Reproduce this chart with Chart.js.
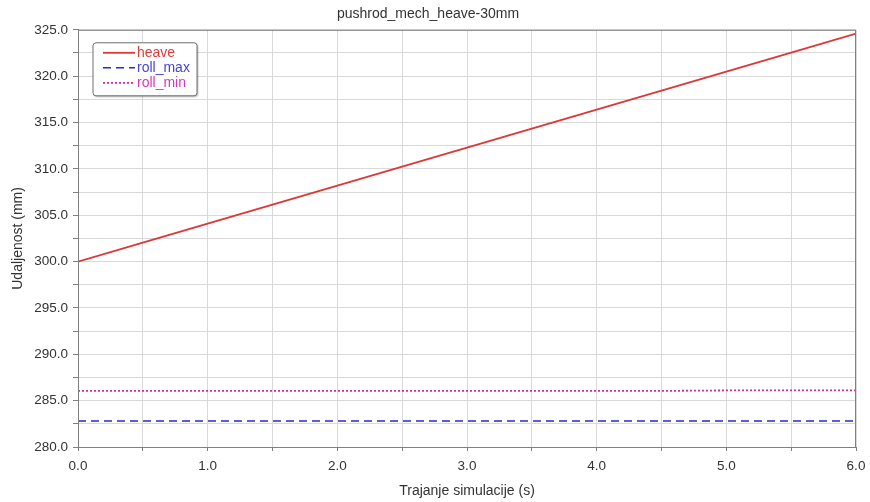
<!DOCTYPE html>
<html>
<head>
<meta charset="utf-8">
<title>pushrod_mech_heave-30mm</title>
<script src="https://cdn.jsdelivr.net/npm/chart.js@4"></script>
<style>
  html, body { margin: 0; padding: 0; background: #fff; }
  #wrap { width: 870px; height: 502px; }
</style>
</head>
<body>
<div id="wrap"><canvas id="chartHeave" width="870" height="502"></canvas></div>
<script>
// Datos
const timeS = [0.0, 0.5, 1.0, 1.5, 2.0, 2.5, 3.0, 3.5, 4.0, 4.5, 5.0, 5.5, 6.0];
const heave = [300.0, 302.05, 304.1, 306.15, 308.2, 310.25, 312.3, 314.35, 316.4, 318.45, 320.5, 322.55, 324.6];
const rollMax = [282.8, 282.8, 282.8, 282.8, 282.8, 282.8, 282.8, 282.8, 282.8, 282.8, 282.8, 282.8, 282.8];
const rollMin = [286.05, 286.05, 286.05, 286.05, 286.05, 286.05, 286.05, 286.05, 286.05, 286.05, 286.1, 286.1, 286.1];
const seriesNames = ['heave', 'roll_max', 'roll_min'];
const xTickLabels = ['0.0', '1.0', '2.0', '3.0', '4.0', '5.0', '6.0'];
const yTickLabels = ['280.0', '285.0', '290.0', '295.0', '300.0', '305.0', '310.0', '315.0', '320.0', '325.0'];

(function() {
  'use strict';

  const FONT = '"Liberation Sans", Arial, sans-serif';
  const toPoints = vals => vals.map((v, i) => ({ x: timeS[i], y: v }));

  // Leyenda dentro del área de la gráfica
  const boxLegend = {
    id: 'boxLegend',
    afterDraw(chart) {
      const ctx = chart.ctx;
      const area = chart.chartArea;
      const x = area.left + 15;
      const y = area.top + 13;
      ctx.save();
      ctx.shadowColor = 'rgba(0,0,0,0.35)';
      ctx.shadowBlur = 2;
      ctx.shadowOffsetX = 1;
      ctx.shadowOffsetY = 1;
      ctx.fillStyle = '#fff';
      ctx.beginPath();
      ctx.roundRect(x, y, 104, 53, 3);
      ctx.fill();
      ctx.shadowColor = 'transparent';
      ctx.strokeStyle = '#707070';
      ctx.lineWidth = 1;
      ctx.stroke();
      ctx.font = '14px ' + FONT;
      ctx.textBaseline = 'middle';
      chart.data.datasets.forEach((ds, i) => {
        const ly = y + 10 + i * 15;
        ctx.strokeStyle = ds.borderColor;
        ctx.lineWidth = ds.borderWidth;
        ctx.setLineDash(ds.borderDash || []);
        ctx.beginPath();
        ctx.moveTo(x + 10, ly);
        ctx.lineTo(x + 42, ly);
        ctx.stroke();
        ctx.setLineDash([]);
        ctx.fillStyle = ds.legendColor;
        ctx.fillText(ds.label, x + 44, ly);
      });
      ctx.restore();
    }
  };

  // Marco del área de trazado
  const plotFrame = {
    id: 'plotFrame',
    afterDatasetsDraw(chart) {
      const a = chart.chartArea;
      const ctx = chart.ctx;
      ctx.save();
      ctx.strokeStyle = '#808080';
      ctx.lineWidth = 1;
      ctx.strokeRect(a.left + 0.5, a.top + 0.5, a.right - a.left - 1, a.bottom - a.top);
      ctx.restore();
    }
  };

  const ctx = document.getElementById('chartHeave').getContext('2d');
  new Chart(ctx, {
    type: 'line',
    data: {
      datasets: [{
        label: seriesNames[0],
        data: toPoints(heave),
        borderColor: '#dc3838',
        legendColor: '#e03c3c',
        borderWidth: 1.8,
        pointRadius: 0,
        tension: 0
      }, {
        label: seriesNames[1],
        data: toPoints(rollMax),
        borderColor: '#2a2ac8',
        legendColor: '#4444d8',
        borderWidth: 1.6,
        borderDash: [8, 5],
        pointRadius: 0,
        tension: 0
      }, {
        label: seriesNames[2],
        data: toPoints(rollMin),
        borderColor: '#d8289c',
        legendColor: '#d838b8',
        borderWidth: 1.8,
        borderDash: [2, 2],
        pointRadius: 0,
        tension: 0
      }]
    },
    options: {
      responsive: false,
      animation: false,
      layout: { padding: { left: 0, right: 14, top: 0, bottom: 0 } },
      scales: {
        x: {
          type: 'linear',
          min: 0,
          max: 6,
          afterFit(scale) {
            scale.height = 55;
            scale.paddingLeft = 0;
            scale.paddingRight = 0;
          },
          ticks: {
            stepSize: 0.5,
            autoSkip: false,
            maxRotation: 0,
            padding: 7,
            color: '#333',
            font: { family: FONT, size: 13.5 },
            callback: v => (Math.abs(v - Math.round(v)) < 1e-6 ? xTickLabels[Math.round(v)] : '')
          },
          grid: { color: '#d9d9d9', tickColor: '#808080', tickLength: 4 },
          border: { color: '#808080' },
          title: {
            display: true,
            text: 'Trajanje simulacije (s)',
            color: '#333',
            font: { family: FONT, size: 14 },
            padding: { top: 0, bottom: 2 }
          }
        },
        y: {
          min: 280,
          max: 325,
          afterFit(scale) { scale.width = 78; },
          ticks: {
            stepSize: 2.5,
            autoSkip: false,
            padding: 5,
            color: '#333',
            font: { family: FONT, size: 13.5 },
            callback: v => (Math.abs(v % 5) < 1e-6 ? yTickLabels[Math.round((v - 280) / 5)] : '')
          },
          grid: { color: '#d9d9d9', tickColor: '#808080', tickLength: 5 },
          border: { color: '#808080' },
          title: {
            display: true,
            text: 'Udaljenost (mm)',
            color: '#333',
            font: { family: FONT, size: 14 },
            padding: { top: 10, bottom: 0 }
          }
        }
      },
      plugins: {
        legend: { display: false },
        tooltip: { enabled: false },
        title: {
          display: true,
          text: 'pushrod_mech_heave-30mm',
          color: '#333',
          font: { family: FONT, size: 14, weight: 'normal' },
          padding: { top: 6, bottom: 7 }
        }
      }
    },
    plugins: [plotFrame, boxLegend]
  });
})();
</script>
</body>
</html>
